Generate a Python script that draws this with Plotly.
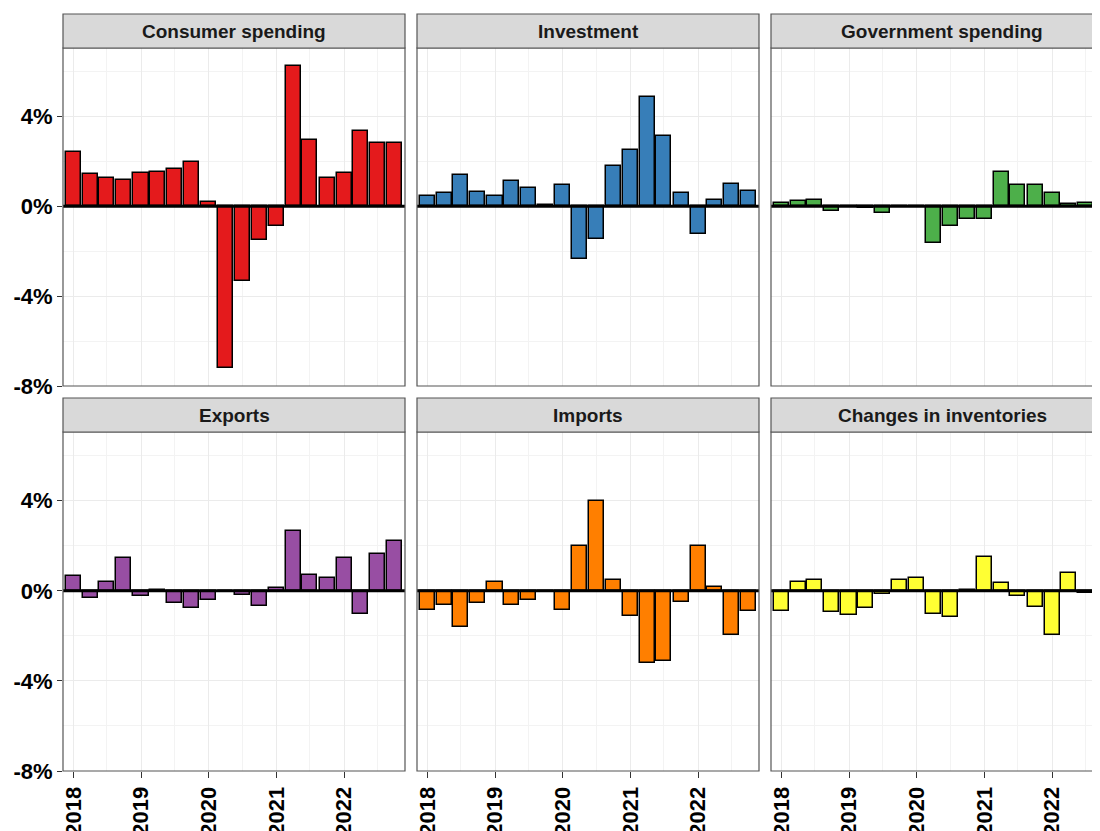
import pandas as pd
import plotly.graph_objects as go

# quarterly contributions to GDP growth, %
quarters = [
    "2018-01-01", "2018-04-01", "2018-07-01", "2018-10-01",
    "2019-01-01", "2019-04-01", "2019-07-01", "2019-10-01",
    "2020-01-01", "2020-04-01", "2020-07-01", "2020-10-01",
    "2021-01-01", "2021-04-01", "2021-07-01", "2021-10-01",
    "2022-01-01", "2022-04-01", "2022-07-01", "2022-10-01",
]
consumer = [2.4, 1.42, 1.24, 1.17, 1.5, 1.53, 1.67, 1.99, 0.2, -7.2,
            -3.33, -1.51, -0.86, 6.25, 2.95, 1.27, 1.5, 3.36, 2.84, 2.8]
investment = [0.46, 0.58, 1.39, 0.62, 0.46, 1.13, 0.8, 0.05, 0.93, -2.34,
              -1.45, 1.81, 2.53, 4.86, 3.13, 0.61, -1.24, 0.28, 0.99, 0.67]
government = [0.16, 0.24, 0.3, -0.2, -0.05, -0.08, -0.28, -0.02, -0.03, -1.62,
              -0.88, -0.56, -0.57, 1.55, 0.97, 0.93, 0.6, 0.1, 0.13, 0.05]
exports = [0.67, -0.33, 0.37, 1.44, -0.25, 0.05, -0.55, -0.77, -0.4, 0.0,
           -0.19, -0.67, 0.12, 2.65, 0.72, 0.55, 1.44, -1.02, 1.64, 2.21]
imports = [-0.84, -0.62, -1.6, -0.53, 0.4, -0.64, -0.39, -0.05, -0.86, 1.99,
           3.97, 0.49, -1.11, -3.19, -3.1, -0.5, 1.99, 0.19, -1.94, -0.9]
inventories = [-0.89, 0.37, 0.49, -0.92, -1.08, -0.77, -0.15, 0.5, 0.58, -1.02,
               -1.16, 0.03, 1.52, 0.34, -0.25, -0.74, -1.94, 0.79, -0.1, -2.96]

titles = ["Consumer spending", "Investment", "Government spending",
          "Exports", "Imports", "Changes in inventories"]
colors = ["#E41A1C", "#377EB8", "#4DAF4A", "#984EA3", "#FF7F00", "#FFFF33"]
series = [consumer, investment, government, exports, imports, inventories]

year_ticks = ["2018-01-01", "2019-01-01", "2020-01-01", "2021-01-01", "2022-01-01"]
year_labels = ["2018", "2019", "2020", "2021", "2022"]
mid_year = ["2018-07-01", "2019-07-01", "2020-07-01", "2021-07-01", "2022-07-01"]
y_ticks = [-8, -4, 0, 4]
y_labels = ["-8%", "-4%", "0%", "4%"]
y_minor = [-6, -2, 2, 6]

# pixel layout in figure coords (page body adds an 8px offset; the
# right column and the year labels run off the visible page)
W, H = 1110, 831
PW = 342
GAP = 12
STRIP = 34
col_left = [55, 55 + PW + GAP, 55 + 2 * (PW + GAP)]
row_top = [40, 424]
row_bot = [378, 763]
ML, MT = col_left[0], 6
MR = W - (col_left[2] + PW)
MB = H - row_bot[1]

area_w = W - ML - MR
area_h = H - MT - MB

x0 = pd.Timestamp("2017-11-06")
x1 = pd.Timestamp("2022-11-26")
bar_w = 81 * 86400000

fig = go.Figure()
shapes, annotations = [], []
font = "Liberation Sans, Arial, sans-serif"

for i, (title, vals, c) in enumerate(zip(titles, series, colors)):
    r, k = divmod(i, 3)
    s = "" if i == 0 else str(i + 1)
    left = col_left[k]
    xd = [(left - ML) / area_w, (left + PW - ML) / area_w]
    yd = [(H - MB - row_bot[r]) / area_h, (H - MB - row_top[r]) / area_h]
    ph = row_bot[r] - row_top[r]

    fig.add_trace(go.Bar(
        x=quarters, y=vals, width=bar_w,
        marker=dict(color=c, line=dict(color="black", width=1.5)),
        xaxis="x" + s, yaxis="y" + s, showlegend=False,
    ))

    fig.update_layout(**{
        "xaxis" + s: dict(
            domain=xd, anchor="y" + s, type="date",
            range=[x0, x1],
            tickvals=year_ticks, ticktext=year_labels,
            showticklabels=(r == 1), ticks="outside" if r == 1 else "",
            ticklen=6, tickwidth=1.3, tickcolor="#333333",
            tickangle=-90, automargin=False,
            tickfont=dict(family=font, size=22, color="black", weight="bold"),
            showgrid=True, gridcolor="#EBEBEB", gridwidth=1.2,
            minor=dict(tickvals=mid_year, showgrid=True,
                       gridcolor="#F3F3F3", gridwidth=0.7, ticks=""),
            zeroline=False, showline=False, fixedrange=True,
        ),
        "yaxis" + s: dict(
            domain=yd, anchor="x" + s,
            range=[-8, 7.05],
            tickvals=y_ticks, ticktext=y_labels,
            showticklabels=(k == 0), ticks="outside" if k == 0 else "",
            ticklen=5, tickwidth=1.3, tickcolor="#333333", automargin=False,
            tickfont=dict(family=font, size=22, color="black", weight="bold"),
            showgrid=True, gridcolor="#EBEBEB", gridwidth=1.2,
            minor=dict(tickvals=y_minor, showgrid=True,
                       gridcolor="#F3F3F3", gridwidth=0.7, ticks=""),
            zeroline=False, showline=False, fixedrange=True,
        ),
    })

    # zero line
    shapes.append(dict(type="line", xref=f"x{s} domain", yref="y" + s,
                       x0=0, x1=1, y0=0, y1=0, layer="above",
                       line=dict(color="black", width=3)))
    # panel border
    shapes.append(dict(type="rect", xref=f"x{s} domain", yref=f"y{s} domain",
                       x0=0, x1=1, y0=0, y1=1, layer="above",
                       line=dict(color="#555555", width=1.2)))
    # strip
    shapes.append(dict(type="rect", xref=f"x{s} domain", yref=f"y{s} domain",
                       x0=0, x1=1, y0=1, y1=1 + STRIP / ph, layer="above",
                       fillcolor="#D9D9D9", line=dict(color="#555555", width=1.2)))
    annotations.append(dict(text=title, xref=f"x{s} domain", yref=f"y{s} domain",
                            x=0.5, y=1 + STRIP / 2 / ph, showarrow=False,
                            xanchor="center", yanchor="middle",
                            font=dict(family=font, size=19, color="#1A1A1A",
                                      weight="bold")))

fig.update_layout(
    width=W, height=H,
    margin=dict(l=ML, r=MR, t=MT, b=MB, pad=0, autoexpand=False),
    paper_bgcolor="white", plot_bgcolor="white",
    shapes=shapes, annotations=annotations,
    bargap=0, showlegend=False,
)

fig.write_html("out.html")
